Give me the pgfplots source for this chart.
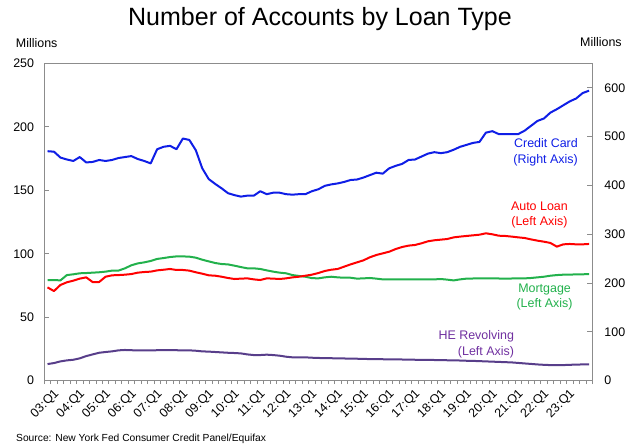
\documentclass[border=0pt]{standalone}
\usepackage{fontspec}
\setmainfont{Liberation Sans}
\usepackage{pgfplots}
\usepackage{pgfplotstable}
\pgfplotsset{compat=1.18}

\definecolor{ccblue}{RGB}{15,30,230}
\definecolor{autored}{RGB}{255,0,0}
\definecolor{mortgreen}{RGB}{34,177,76}
\definecolor{hepurple}{RGB}{88,62,138}
\definecolor{helabel}{RGB}{112,48,160}
\definecolor{framegray}{RGB}{140,140,140}

% quarter index (0 = 03:Q1), auto, mortgage, HE revolving (left axis), credit card (right axis)
\pgfplotstableread{
i  auto   mort  he    cc
0  73.5   79.3  13.1  470
1  70.6   79.3  13.9  469
2  75.4   79.0  15.2  457
3  77.5   83.2  16.0  453
4  78.8   83.8  16.5  450
5  80.4   84.6  17.6  458
6  81.4   84.8  19.4  447
7  77.7   85.1  20.7  448
8  77.7   85.4  22.0  452
9  81.9   85.9  22.6  450
10 83.0   86.7  23.1  452
11 83.2   86.7  23.9  456
12 83.5   88.5  24.2  458
13 84.0   90.9  24.0  460
14 85.1   92.4  23.9  454
15 85.6   93.2  23.9  450
16 85.9   94.3  23.9  445
17 86.9   95.9  24.0  474
18 87.4   96.6  24.0  479
19 88.0   97.4  24.0  481
20 87.2   97.9  24.0  474
21 87.2   97.9  23.9  496
22 86.7   97.7  23.9  493
23 85.4   96.9  23.6  472
24 84.3   95.3  23.1  435
25 83.0   94.0  22.9  413
26 82.7   92.7  22.6  403
27 81.9   91.9  22.3  394
28 80.9   91.6  22.0  384
29 80.1   90.6  21.8  380
30 80.4   89.5  21.5  377
31 80.6   88.5  20.7  379
32 79.8   88.5  20.2  379
33 79.3   88.0  20.2  388
34 80.6   86.9  20.5  382
35 80.4   85.9  20.2  385
36 80.1   85.1  19.7  385
37 80.6   84.6  18.9  382
38 81.4   83.2  18.4  381
39 81.9   82.5  18.4  382
40 82.7   81.9  18.4  382
41 83.5   80.8  18.1  388
42 84.8   80.6  17.9  392
43 86.4   81.4  17.8  399
44 87.4   81.9  17.7  402
45 88.0   81.4  17.6  404
46 89.8   81.1  17.5  407
47 91.6   81.1  17.4  411
48 93.2   80.4  17.3  412
49 94.8   80.6  17.2  416
50 97.2   80.9  17.0  421
51 99.0   80.4  16.9  426
52 100.3  79.8  16.9  424
53 101.6  79.8  16.8  435
54 103.7  79.8  16.7  440
55 105.3  79.8  16.7  444
56 106.4  79.8  16.6  452
57 106.9  79.8  16.5  453
58 108.2  79.8  16.4  459
59 109.8  79.8  16.4  465
60 110.6  79.8  16.3  468
61 111.1  80.1  16.2  466
62 111.6  79.6  16.1  468
63 112.9  79.0  16.0  473
64 113.5  79.8  15.9  479
65 114.0  80.4  15.7  483
66 114.5  80.5  15.6  487
67 115.0  80.5  15.4  489
68 116.1  80.6  15.2  508
69 115.3  80.6  15.0  511
70 114.2  80.5  14.8  505
71 114.0  80.4  14.6  505
72 113.5  80.5  14.4  505
73 112.9  80.5  14.0  505
74 112.4  80.6  13.6  512
75 111.3  80.9  13.2  522
76 110.3  81.4  12.8  532
77 109.5  81.9  12.5  537
78 108.5  82.7  12.3  549
79 105.6  83.2  12.2  556
80 107.4  83.5  12.3  564
81 107.7  83.5  12.5  572
82 107.4  83.8  12.7  578
83 107.4  83.8  12.8  589
84 107.7  84.0  12.8  594
}\loandata

\pgfplotsset{
  loanaxis/.style={
    scale only axis,
    width=548bp, height=317.4bp,
    at={(0,0)}, anchor=south west,
    xmin=-0.5, xmax=84.5,
    axis line style={framegray, line width=0.8bp},
    tick align=inside,
    major tick length=5bp,
    ytick style={framegray, line width=0.8bp},
    /pgf/number format/assume math mode=true,
    yticklabel style={font=\fontsize{12.5}{12.5}\selectfont, inner sep=0pt},
  },
  series/.style={line width=2bp, line join=round, mark=none},
}

\begin{document}
\begin{tikzpicture}
\path[use as bounding box] (-44.3bp,-64.3bp) rectangle (595.7bp,380.7bp);

\begin{axis}[
  loanaxis,
  ymin=0, ymax=250,
  ytick={0,50,...,250},
  ytick pos=left,
  yticklabel style={xshift=-10bp},
  xtick={0,4,...,80},
  xticklabels={03:Q1,04:Q1,05:Q1,06:Q1,07:Q1,08:Q1,09:Q1,10:Q1,11:Q1,12:Q1,13:Q1,
               14:Q1,15:Q1,16:Q1,17:Q1,18:Q1,19:Q1,20:Q1,21:Q1,22:Q1,23:Q1},
  xtick pos=bottom,
  major x tick style={draw=none},
  minor xtick={-0.5,0.5,...,84.5},
  minor tick length=3.5bp,
  minor x tick style={framegray, line width=0.6bp, yshift=-3.5bp},
  xticklabel style={rotate=45, anchor=north east, inner sep=1bp,
                    font=\fontsize{12.5}{12.5}\selectfont, yshift=-8bp},
]
\addplot[series, mortgreen] table[x=i, y=mort] {\loandata};
\addplot[series, autored]   table[x=i, y=auto] {\loandata};
\addplot[series, hepurple]  table[x=i, y=he]   {\loandata};

\begin{scope}[font=\fontsize{12.5}{16}\selectfont]
\node[ccblue, anchor=east, align=right] at (axis cs:82.8,180) {Credit Card\\(Right Axis)};
\node[autored, align=center] at (axis cs:76.3,130.5) {Auto Loan\\(Left Axis)};
\node[mortgreen, align=center] at (axis cs:77.1,65.9) {Mortgage\\(Left Axis)};
\node[helabel, anchor=east, align=right] at (axis cs:72.9,28.9) {HE Revolving\\(Left Axis)};
\end{scope}
\end{axis}

\begin{axis}[
  loanaxis,
  ymin=0, ymax=650,
  ytick={0,100,...,600},
  ytick pos=right,
  yticklabel style={xshift=12bp, anchor=west},
  hide x axis,
]
\addplot[series, ccblue] table[x=i, y=cc] {\loandata};
\end{axis}

\node[anchor=base, font=\fontsize{25.1}{25.1}\selectfont] at (275.7bp,354.7bp) {Number of Accounts by Loan Type};
\node[anchor=base west, inner sep=0pt, font=\fontsize{12.5}{12.5}\selectfont] at (-28.6bp,332.7bp) {Millions};
\node[anchor=base west, inner sep=0pt, font=\fontsize{12.5}{12.5}\selectfont] at (535.7bp,334.4bp) {Millions};
\node[anchor=base west, inner sep=0pt, font=\fontsize{10.3}{10.3}\selectfont] at (-28.3bp,-60.3bp) {Source: New York Fed Consumer Credit Panel/Equifax};
\end{tikzpicture}
\end{document}
